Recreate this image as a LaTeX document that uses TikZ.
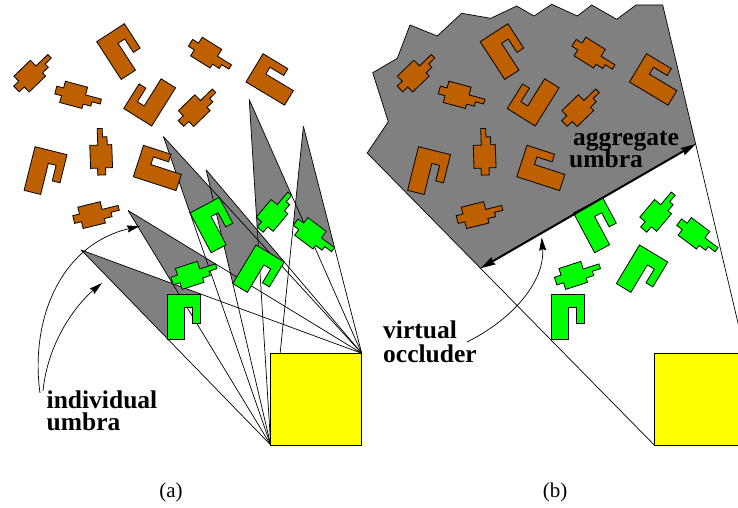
\documentclass[tikz,border=0pt]{standalone}
\usepackage{fontspec}
\setmainfont{Liberation Serif}
\usetikzlibrary{arrows.meta,calc}

\definecolor{occbrown}{RGB}{191,96,0}
\definecolor{occgreen}{RGB}{0,255,0}
\definecolor{umbragray}{RGB}{128,128,128}
\definecolor{lightyellow}{RGB}{255,255,0}

\newcommand\lblfont{\fontsize{25.5}{22}\selectfont\bfseries\lineskiplimit=-30pt\relax}
\newcommand\capfont{\fontsize{21}{21}\selectfont}

% C-shaped occluder: corners c1..c8, top-left corner at (#2,#3), turned by #4
\newcommand\defC[4]{%
  \begin{scope}[shift={(#2,#3)},rotate=#4]
    \path (0,0) coordinate (#1c1) (33,0) coordinate (#1c2) (33,29) coordinate (#1c3)
          (25,29) coordinate (#1c4) (25,13) coordinate (#1c5) (17,13) coordinate (#1c6)
          (17,45) coordinate (#1c7) (0,45) coordinate (#1c8);
  \end{scope}}
\newcommand\drawC[2]{%
  \draw[#2] (#1c1)--(#1c2)--(#1c3)--(#1c4)--(#1c5)--(#1c6)--(#1c7)--(#1c8)--cycle;}

% plug-shaped occluder: corners p1..p14, centred at (#2,#3), axis turned by #4
\newcommand\defPlug[4]{%
  \begin{scope}[shift={(#2,#3)},rotate=#4]
    \path (-23,-4) coordinate (#1p1) (-16,-4) coordinate (#1p2)
          (-16,-11) coordinate (#1p3) (7,-11) coordinate (#1p4)
          (7,-3) coordinate (#1p5) (23.5,-3) coordinate (#1p6)
          (23.5,2) coordinate (#1p7) (15,2) coordinate (#1p8)
          (15,6.5) coordinate (#1p9) (7,6.5) coordinate (#1p10)
          (7,11) coordinate (#1p11) (-16,11) coordinate (#1p12)
          (-16,4) coordinate (#1p13) (-23,4) coordinate (#1p14);
  \end{scope}}
\newcommand\drawPlug[2]{%
  \draw[#2] (#1p1)--(#1p2)--(#1p3)--(#1p4)--(#1p5)--(#1p6)--(#1p7)--(#1p8)
            --(#1p9)--(#1p10)--(#1p11)--(#1p12)--(#1p13)--(#1p14)--cycle;}

% the set of occluders, corners named with prefix #1
\newcommand\placeScene[1]{%
  \defPlug{#1Ba}{33}{73}{44}
  \defPlug{#1Bb}{78}{96}{-15}
  \defPlug{#1Bc}{197.5}{107.5}{44}
  \defPlug{#1Bd}{210}{55}{-32}
  \defPlug{#1Be}{101}{152}{92}
  \defPlug{#1Bf}{96}{214}{14}
  \defC{#1Bg}{96.7}{41.7}{33}
  \defC{#1Bh}{151.7}{126}{148}
  \defC{#1Bi}{246}{82}{59}
  \defC{#1Bj}{35}{146.7}{-14}
  \defC{#1Bk}{133.3}{176.7}{72}
  \defC{#1Ga}{167.7}{294}{0}
  \defPlug{#1Gb}{194}{274}{18}
  \defC{#1Gc}{190}{213}{28}
  \defC{#1Gd}{256}{245}{-31}
  \defPlug{#1Ge}{275}{212}{50}
  \defPlug{#1Gf}{314}{236}{-37}
}
\newcommand\drawScene[1]{%
  \drawPlug{#1Ba}{brownobj}\drawPlug{#1Bb}{brownobj}\drawPlug{#1Bc}{brownobj}
  \drawPlug{#1Bd}{brownobj}\drawPlug{#1Be}{brownobj}\drawPlug{#1Bf}{brownobj}
  \drawC{#1Bg}{brownobj}\drawC{#1Bh}{brownobj}\drawC{#1Bi}{brownobj}
  \drawC{#1Bj}{brownobj}\drawC{#1Bk}{brownobj}
  \drawC{#1Ga}{greenobj}\drawPlug{#1Gb}{greenobj}\drawC{#1Gc}{greenobj}
  \drawC{#1Gd}{greenobj}\drawPlug{#1Ge}{greenobj}\drawPlug{#1Gf}{greenobj}
}

\begin{document}
\begin{tikzpicture}[x=1pt,y=-1pt,
  obj/.style={draw=black,line width=0.8pt,line join=miter},
  brownobj/.style={obj,fill=occbrown},
  greenobj/.style={obj,fill=occgreen},
  raypath/.style={draw=black,line width=0.7pt},
  umbrafill/.style={fill=umbragray},
  lightsrc/.style={draw=black,line width=0.8pt,fill=lightyellow},
  lbl/.style={inner sep=0pt,font=\lblfont,align=left,anchor=base west},
  caption/.style={inner sep=0pt,font=\capfont,anchor=base},
  pointer/.style={draw=black,line width=0.7pt,-{Stealth[length=13pt,width=7pt,inset=1.5pt]}},
  occluder/.style={draw=black,line width=2pt,
    {Stealth[length=15pt,width=8pt,inset=1.5pt]}-{Stealth[length=15pt,width=8pt,inset=1.5pt]}}
]
\useasboundingbox (0,0) rectangle (738,508);
\clip (0,0) rectangle (738,508);

% ---------------- (a) individual umbrae ----------------
\placeScene{a}
\coordinate (aL1) at (270.7,445);
\coordinate (aL2) at (361.7,353.3);
\coordinate (aU1) at (intersection of aL1--aGac8 and aL2--aGac2);
\coordinate (aU2) at (intersection of aL1--aGbp14 and aL2--aGbp6);
\coordinate (aU3) at (intersection of aL1--aGcc1 and aL2--aGcc2);
\coordinate (aU4) at (intersection of aL1--aGdc8 and aL2--aGdc2);
\coordinate (aU5) at (intersection of aL1--aGep1 and aL2--aGep7);
\coordinate (aU6) at (intersection of aL1--aGfp14 and aL2--aGfp6);

\fill[umbrafill] (aU1) -- (aGac8) -- (aGac1) -- (aGac2) -- cycle;
\fill[umbrafill] (aU2) -- (aGbp14) -- (aGbp1) -- (aGbp2) -- (aGbp3) -- (aGbp4) -- (aGbp5) -- (aGbp6) -- cycle;
\fill[umbrafill] (aU3) -- (aGcc1) -- (aGcc2) -- cycle;
\fill[umbrafill] (aU4) -- (aGdc8) -- (aGdc1) -- (aGdc2) -- cycle;
\fill[umbrafill] (aU5) -- (aGep1) -- (aGep2) -- (aGep3) -- (aGep4) -- (aGep5) -- (aGep6) -- (aGep7) -- cycle;
\fill[umbrafill] (aU6) -- (aGfp14) -- (aGfp1) -- (aGfp2) -- (aGfp3) -- (aGfp4) -- (aGfp5) -- (aGfp6) -- cycle;

\foreach \u in {1,...,6}{
  \draw[raypath] (aL1) -- (aU\u);
  \draw[raypath] (aL2) -- (aU\u);
}

\drawScene{a}
\draw[lightsrc] (aL1) rectangle (aL2);

% multi-line labels are anchored on the baseline of their last line
\node[lbl] (indiv) at (46.5,430) {individual\\umbra};
\coordinate (arrOuter) at (40,393);
\coordinate (arrInner) at (43,391);
\draw[pointer] (arrOuter) .. controls (30,320) and (60,245) .. (140,226);
\draw[pointer] (arrInner) .. controls (48,340) and (78,303) .. (102,283);

\node[caption] (capA) at (171,497) {(a)};

% ---------------- (b) aggregate umbra ----------------
\begin{scope}[shift={(383.5,0)}]
  \placeScene{b}
  \coordinate (bL1) at (270.7,445);
  \coordinate (bL2) at (361.7,353.3);
\end{scope}
\coordinate (bTop) at (662.7,5);
\coordinate (bOr) at ($(bL2)!0.6006!(bTop)$);
\coordinate (bOl) at (480.5,268.3);
\coordinate (bLeft) at ($(bL1)!1.6525!(bOl)$);

\filldraw[fill=umbragray,draw=black,line width=0.7pt]
  (bOl) -- (bLeft) -- (388.3,121.7) -- (372.7,72.7) -- (397.3,58.3) -- (410,25)
  -- (437.3,36) -- (461.7,13.3) -- (490.7,18.3) -- (516.7,6) -- (534,16)
  -- (551.7,4.3) -- (577.3,16) -- (591.7,5) -- (616.7,19.3) -- (636,5)
  -- (bTop) -- (bOr) -- cycle;
\draw[raypath] (bL1) -- (bOl);
\draw[raypath] (bL2) -- (bOr);

\drawScene{b}
\draw[occluder] (bOl) -- (bOr);
\draw[lightsrc] (bL1) rectangle (bL2);

\node[lbl] (agg) at (573,167.7) {aggregate\\\hspace*{-4pt}umbra};
\node[lbl] (virt) at (383,362) {virtual\\[2pt]occluder};
\coordinate (arrVirt) at (467,342);
\coordinate (arrVirtTip) at (541.7,237.5);
\draw[pointer] (arrVirt) .. controls (515,318) and (545,280) .. (arrVirtTip);

\node[caption] (capB) at (555,497) {(b)};
\end{tikzpicture}
\end{document}
